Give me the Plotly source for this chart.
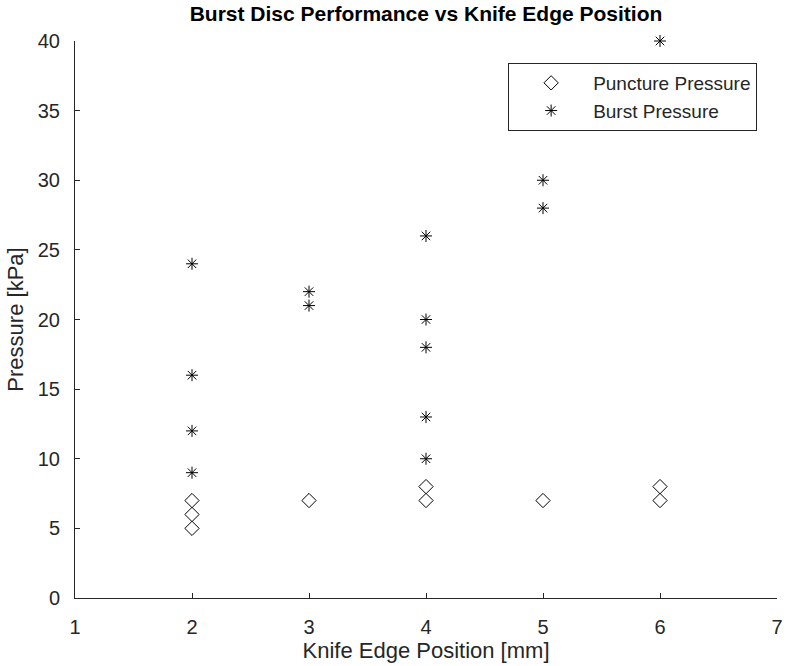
import plotly.graph_objects as go

puncture_x = [2, 2, 2, 3, 4, 4, 5, 6, 6]
puncture_y = [5, 6, 7, 7, 7, 8, 7, 7, 8]
burst_x = [2, 2, 2, 2, 3, 3, 4, 4, 4, 4, 4, 5, 5, 6]
burst_y = [9, 12, 16, 24, 21, 22, 10, 13, 18, 20, 26, 28, 30, 40]

font_family = "Liberation Sans, Arial, sans-serif"
axis_col = "#262626"

fig = go.Figure()
fig.add_trace(go.Scatter(
    x=puncture_x, y=puncture_y, mode="markers", name="Puncture Pressure",
    marker=dict(symbol="diamond-open", size=11, color="black", line=dict(width=1, color="black")),
    cliponaxis=False,
))
fig.add_trace(go.Scatter(
    x=burst_x, y=burst_y, mode="markers", name="Burst Pressure",
    marker=dict(symbol="asterisk-open", size=10, color="black", line=dict(width=1, color="black")),
    cliponaxis=False,
))

fig.update_layout(
    width=788, height=666,
    margin=dict(l=75, r=11, t=41, b=68),
    paper_bgcolor="white", plot_bgcolor="white",
    font=dict(family=font_family, color=axis_col),
    title=dict(text="<b>Burst Disc Performance vs Knife Edge Position</b>",
               x=(75 + 777) / 2 / 788, xanchor="center", y=1 - 14 / 666, yanchor="middle",
               font=dict(size=21, color="black", family=font_family)),
    showlegend=True,
    legend=dict(x=0.617, y=0.9605, xanchor="left", yanchor="top",
                bordercolor=axis_col, borderwidth=1, bgcolor="white",
                font=dict(size=19, color=axis_col, family=font_family),
                itemwidth=74, tracegroupgap=0),
)
fig.update_xaxes(
    range=[1, 7], tickvals=[1, 2, 3, 4, 5, 6, 7], ticks="inside", ticklen=5,
    tickcolor=axis_col, showline=True, linecolor=axis_col, linewidth=1,
    showgrid=False, zeroline=False, mirror=False, automargin=False,
    tickfont=dict(size=20, color=axis_col), ticklabelstandoff=11,
    title=dict(text="Knife Edge Position [mm]", font=dict(size=22, color=axis_col), standoff=5),
)
fig.update_yaxes(
    range=[0, 40], tickvals=[0, 5, 10, 15, 20, 25, 30, 35, 40], ticks="inside", ticklen=5,
    tickcolor=axis_col, showline=True, linecolor=axis_col, linewidth=1,
    showgrid=False, zeroline=False, mirror=False, automargin=False,
    tickfont=dict(size=20, color=axis_col), ticklabelstandoff=10,
    title=dict(text="Pressure [kPa]", font=dict(size=22, color=axis_col), standoff=8),
)

fig.write_html("out.html")
